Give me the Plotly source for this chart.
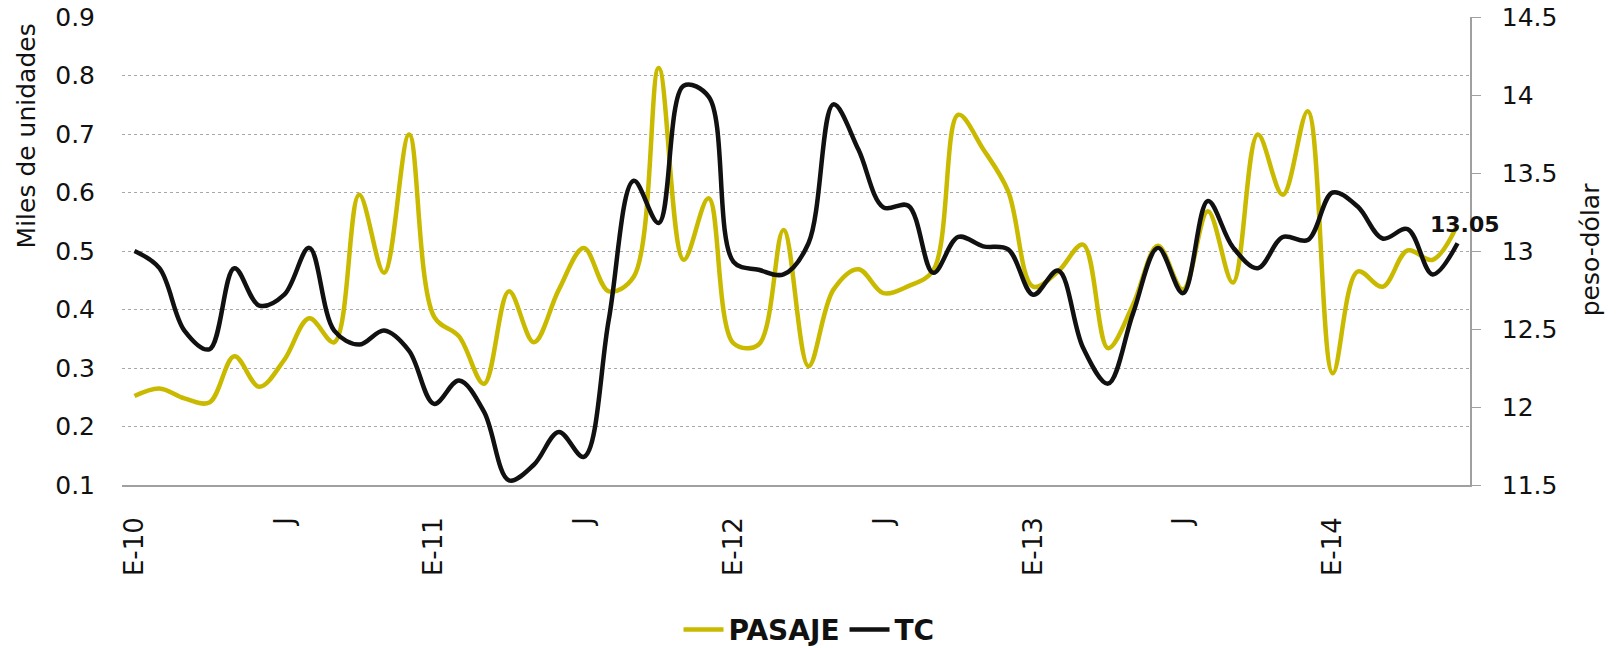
import plotly.graph_objects as go

# Monthly categories Jan-2010 .. Jun-2014
months = [f"{y}-{m:02d}" for y in range(2010, 2015) for m in range(1, 13)][:54]
tick_labels = ["E-10", "J", "E-11", "J", "E-12", "J", "E-13", "J", "E-14"]

pasaje = [0.252, 0.265, 0.248, 0.241, 0.320, 0.268, 0.314, 0.385, 0.344, 0.596,
          0.463, 0.699, 0.388, 0.354, 0.273, 0.431, 0.344, 0.434, 0.505, 0.431,
          0.456, 0.813, 0.485, 0.590, 0.342, 0.340, 0.536, 0.303, 0.434, 0.469,
          0.428, 0.440, 0.467, 0.733, 0.674, 0.602, 0.439, 0.465, 0.511, 0.334,
          0.408, 0.509, 0.434, 0.568, 0.446, 0.699, 0.596, 0.739, 0.291, 0.465,
          0.439, 0.501, 0.485, 0.545]

tc = [13.00, 12.89, 12.49, 12.37, 12.89, 12.65, 12.72, 13.02, 12.49, 12.40,
      12.49, 12.36, 12.02, 12.17, 11.97, 11.53, 11.63, 11.84, 11.68, 12.56,
      13.45, 13.18, 14.06, 13.99, 12.93, 12.88, 12.85, 13.05, 13.94, 13.65,
      13.28, 13.29, 12.86, 13.09, 13.03, 13.01, 12.72, 12.875, 12.38, 12.15,
      12.60, 13.02, 12.73, 13.32, 13.025, 12.89, 13.09, 13.07, 13.375, 13.285,
      13.08, 13.14, 12.85, 13.05]

YELLOW = "#C9BA00"
BLACK = "#111111"
FONT = "DejaVu Sans"
TXT = "#111111"

fig = go.Figure()
fig.add_trace(go.Scatter(x=months, y=pasaje, name="<b>PASAJE</b>", mode="lines",
                         line=dict(color=YELLOW, width=4.5, shape="spline", smoothing=1),
                         yaxis="y"))
fig.add_trace(go.Scatter(x=months, y=tc, name="<b>TC</b>", mode="lines",
                         line=dict(color=BLACK, width=4.5, shape="spline", smoothing=1),
                         yaxis="y2"))

# data label on last TC point
fig.add_annotation(x=months[-1], y=tc[-1], xref="x", yref="y2",
                   text=f"<b>{tc[-1]:.2f}</b>", showarrow=False,
                   xshift=7, yshift=19,
                   font=dict(family=FONT, size=22, color=TXT))

# axis titles
fig.add_annotation(text="Miles de unidades", textangle=-90, showarrow=False,
                   xref="paper", yref="paper", x=-0.0708, y=0.746,
                   xanchor="center", yanchor="middle",
                   font=dict(family=FONT, size=25, color=TXT))
fig.add_annotation(text="peso-dólar", textangle=-90, showarrow=False,
                   xref="paper", yref="paper", x=1.0894, y=0.5025,
                   xanchor="center", yanchor="middle",
                   font=dict(family=FONT, size=25, color=TXT))

fig.update_layout(
    width=1618, height=648,
    margin=dict(l=122, r=148, t=17, b=163),
    paper_bgcolor="white", plot_bgcolor="white",
    font=dict(family=FONT, color=TXT),
    showlegend=True,
    legend=dict(orientation="h", xref="container", yref="container",
                x=0.5, xanchor="center", y=0.028, yanchor="middle",
                font=dict(family=FONT, size=28, color=TXT),
                itemwidth=40, traceorder="normal"),
    xaxis=dict(type="category", range=[-0.5, 53.5],
               tickmode="array", tickvals=[months[i] for i in range(0, 54, 6)],
               ticktext=tick_labels, tickangle=-90,
               tickfont=dict(family=FONT, size=26, color=TXT),
               showgrid=False, showline=True, linecolor="#a0a0a0", linewidth=1.5,
               ticks="", zeroline=False, automargin=False, ticklabelstandoff=20),
    yaxis=dict(range=[0.1, 0.9], tick0=0.1, dtick=0.1,
               tickfont=dict(family=FONT, size=25, color=TXT),
               showgrid=True, gridcolor="#a8a8a8", gridwidth=1, griddash="3px,3px",
               zeroline=False, showline=False, ticks="", automargin=False,
               ticklabelstandoff=26),
    yaxis2=dict(range=[11.5, 14.5], tick0=11.5, dtick=0.5, overlaying="y", side="right",
                tickfont=dict(family=FONT, size=25, color=TXT),
                showgrid=False, zeroline=False, showline=True, linecolor="#a0a0a0",
                linewidth=1.5, ticks="outside", ticklen=9, tickcolor="#a0a0a0",
                automargin=False, ticklabelstandoff=16),
)

fig.write_html("out.html", config={"displayModeBar": False},
               post_script="document.body.style.margin='0';document.body.style.overflow='hidden';")
